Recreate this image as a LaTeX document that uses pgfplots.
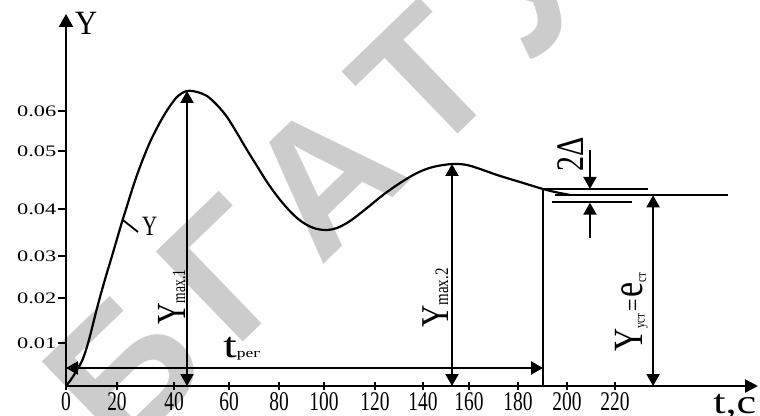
\documentclass[border=0pt]{standalone}
\usepackage{fontspec}
\setmainfont{Liberation Serif}
\newfontfamily\wmfont{Liberation Sans}[LetterSpace=15]
\usepackage{pgfplots}
\pgfplotsset{compat=1.18}
\usetikzlibrary{arrows.meta}
\newcommand{\fs}[1]{\fontsize{#1}{#1}\selectfont}
\definecolor{wm}{RGB}{204,204,204}
\tikzset{
  tip/.tip={Triangle[length=12pt,width=13pt]},
  dbl/.style={line width=2.2pt, tip-tip},
  sgl/.style={line width=2.2pt, -tip},
}
\begin{document}
\begin{tikzpicture}
\useasboundingbox (-66pt,-29pt) rectangle (694pt,386pt);
% watermark
\node[rotate=44, text=wm, inner sep=0pt, font=\wmfont\bfseries\fs{182}] at (256pt,206pt) {БГАТУ};
\begin{axis}[
  scale only axis, width=692pt, height=372pt,
  xmin=0, xmax=277.35, ymin=0, ymax=0.08117,
  axis lines=left,
  x axis line style={line width=2.4pt, -{Triangle[length=13pt,width=13pt]}},
  y axis line style={line width=2.4pt, -{Triangle[length=13pt,width=14pt]}},
  clip=false,
  scaled y ticks=false, scaled x ticks=false,
  tick align=outside,
  major tick length=8pt,
  tick style={line width=2.6pt, black},
  every x tick/.append style={yshift=4pt},
  xtick={0,20.44,43.29,65.33,85.37,103.41,123.85,143.09,161.52,181.16,200.80,220.04},
  xticklabels={0,20,40,60,80,100,120,140,160,180,200,220},
  ytick={0.00938,0.0192,0.0284,0.0386,0.0513,0.0600},
  yticklabels={0.01,0.02,0.03,0.04,0.05,0.06},
  xticklabel style={font=\fs{27}, xscale=0.72, anchor=north, inner sep=0pt, yshift=2pt},
  yticklabel style={font=\fs{16}, xscale=1.4, anchor=east, inner sep=1pt},
]
% transient response Y(t)
\addplot[line width=2.2pt, smooth, tension=0.55] coordinates {
(0,0) (1.60,0.00109) (3.21,0.00240) (4.81,0.00393) (6.41,0.00545)
(8.02,0.00786) (9.62,0.01091) (11.62,0.01527) (13.63,0.01942) (16.03,0.02400)
(18.44,0.02837) (20.44,0.03208) (22.44,0.03578) (24.45,0.03928) (26.45,0.04277)
(28.46,0.04604) (30.86,0.04953) (33.67,0.05324) (36.47,0.05630) (38.88,0.05870)
(41.68,0.06110) (44.89,0.06328) (48.50,0.06437) (52.51,0.06415) (56.51,0.06328)
(60.52,0.06131) (64.53,0.05870) (68.54,0.05520) (72.55,0.05150) (76.55,0.04800)
(80.56,0.04451) (84.57,0.04146) (88.58,0.03884) (92.59,0.03666) (96.59,0.03513)
(100.60,0.03426) (104.61,0.03404) (108.62,0.03448) (113.83,0.03600) (120.64,0.03884)
(127.05,0.04168) (133.87,0.04429) (140.68,0.04648) (147.09,0.04779) (154.71,0.04844)
(160.72,0.04822) (167.13,0.04713) (172.75,0.04604) (177.96,0.04517) (181.96,0.04451)
(187.17,0.04364) (191.18,0.04298) (195.99,0.04233) (202.00,0.04168)
};
% steady state and +-Delta band
\addplot[line width=2pt] coordinates {(196.0,0.04168) (265.3,0.04168)};
\addplot[line width=2pt] coordinates {(191.2,0.04298) (233.3,0.04298)};
\addplot[line width=2pt] coordinates {(194.8,0.04015) (226.9,0.04015)};
% regulation time
\addplot[line width=2.2pt] coordinates {(191.18,0) (191.18,0.04298)};
\addplot[dbl] coordinates {(0,0.00393) (191.18,0.00393)};
% maxima
\addplot[dbl] coordinates {(48.5,0) (48.5,0.06437)};
\addplot[dbl] coordinates {(154.71,0) (154.71,0.04844)};
% steady value
\addplot[dbl] coordinates {(235.3,0) (235.3,0.0416)};
% 2 Delta
\addplot[sgl] coordinates {(210.0,0.0515) (210.0,0.0430)};
\addplot[sgl] coordinates {(210.0,0.0323) (210.0,0.0400)};
% leader to curve label
\addplot[line width=1.8pt] coordinates {(22.85,0.0362) (28.86,0.0336)};
\end{axis}
% labels
\node[anchor=base west, inner sep=0pt, font=\fs{34}, xscale=0.9] at (9pt,351pt) {Y};
\node[anchor=base west, inner sep=0pt, font=\fs{34}, xscale=1.3] at (647pt,-27pt) {t,c};
\node[anchor=base west, inner sep=0pt, xscale=1.38, rotate=90] at (119pt,61pt) {{\fs{30}Y}{\fs{13.5}max.1}};
\node[anchor=base west, inner sep=0pt, xscale=1.27, rotate=90] at (382pt,58pt) {{\fs{31}Y}{\fs{15}max.2}};
\node[anchor=base west, inner sep=0pt, xscale=1.3, rotate=90] at (576pt,34pt) {{\fs{32}Y}\raisebox{-2pt}{\fs{11}уст}{\fs{22}\kern2pt=\kern2pt}{\fs{34}e}\raisebox{-3pt}{\fs{11}ст}};
\node[anchor=base west, inner sep=0pt, xscale=1.3, rotate=90] at (517pt,214pt) {\fs{30}2Δ};
\node[anchor=base west, inner sep=0pt, xscale=1.35] at (157pt,29pt) {{\fs{36}t}\raisebox{-1pt}{\fs{13}рег}};
\node[anchor=base west, inner sep=0pt, font=\fs{28}, xscale=0.75] at (76pt,150pt) {Y};
\end{tikzpicture}
\end{document}
